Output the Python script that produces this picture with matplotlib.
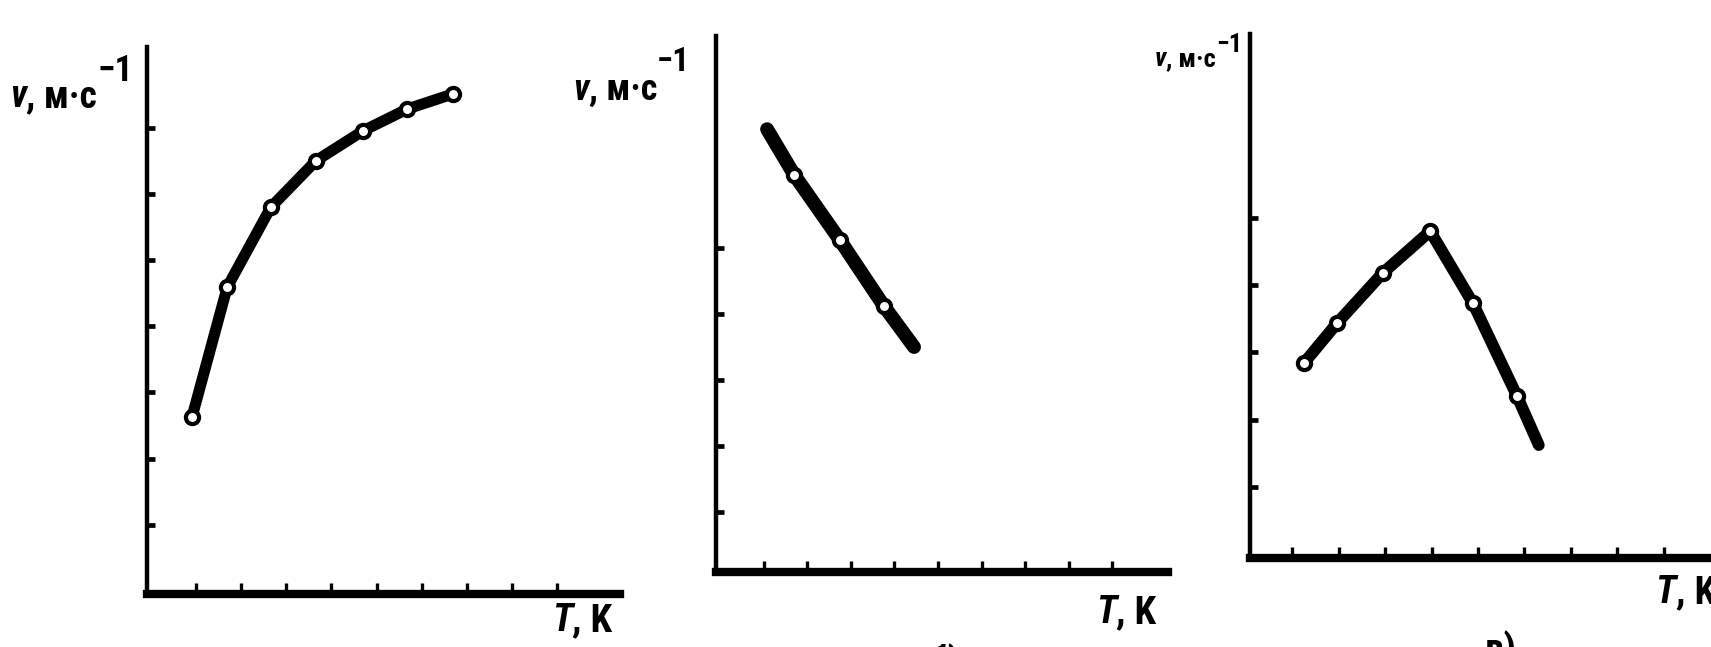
import sys
import matplotlib
matplotlib.use("Agg")
import matplotlib.pyplot as plt
from matplotlib import font_manager as fm

# ---------------- data (values in tick units of each axis) ----------------
T1 = [0.91, 1.69, 2.66, 3.66, 4.70, 5.68, 6.70]
v1 = [2.63, 4.59, 5.80, 6.50, 6.95, 7.28, 7.51]
marks1 = [0, 1, 2, 3, 4, 5, 6]

T2 = [1.08, 1.70, 2.75, 3.76, 4.45]
v2 = [6.80, 6.11, 5.12, 4.12, 3.50]
marks2 = [1, 2, 3]

T3 = [1.25, 1.96, 2.95, 3.97, 4.89, 5.84, 6.31]
v3 = [2.84, 3.43, 4.18, 4.80, 3.73, 2.35, 1.62]
marks3 = [0, 1, 2, 3, 4, 5]

x_ticks = [1, 2, 3, 4, 5, 6, 7, 8, 9]
y_ticks1 = [1, 2, 3, 4, 5, 6, 7]
y_ticks2 = [1, 2, 3, 4, 5]
y_ticks3 = [1, 2, 3, 4, 5]

y_lab_sym = "v"
y_lab_unit = ", м·с"
y_lab_pow = "−1"
x_lab_sym = "T"
x_lab_unit = ", K"
captions = ["б)", "в)"]

# ---------------- fonts ----------------
names = {f.name for f in fm.fontManager.ttflist}
for cand in ["Liberation Sans Narrow", "Roboto Condensed", "Liberation Sans", "DejaVu Sans"]:
    if cand in names:
        FONT = dict(family=[cand, "DejaVu Sans"])
        break

# ---------------- layout (pixels of a 1711x647 canvas) ----------------
W, H = 1711, 647
fig = plt.figure(figsize=(W / 100, H / 100), dpi=100)
fig.patch.set_facecolor("white")

# (left spine px, right end px, bottom spine px, top end px,
#  x zero px, px per x unit, y zero px, px per y unit)
panels = [
    dict(L=147, R=620, B=594, T=47, x0=151, sx=45.1, y0=591, sy=66.2, lw=8.0,
         T_=T1, v_=v1, marks=marks1, yt=y_ticks1),
    dict(L=716, R=1168, B=572, T=36, x0=720, sx=43.6, y0=578, sy=66.0, lw=10.0,
         T_=T2, v_=v2, marks=marks2, yt=y_ticks2),
    dict(L=1250, R=1730, B=558, T=34, x0=1246, sx=46.4, y0=554, sy=67.25, lw=8.5,
         T_=T3, v_=v3, marks=marks3, yt=y_ticks3),
]

for p in panels:
    rect = [p["L"] / W, 1 - p["B"] / H, (p["R"] - p["L"]) / W, (p["B"] - p["T"]) / H]
    ax = fig.add_axes(rect)
    ax.set_facecolor("none")
    ax.set_xlim((p["L"] - p["x0"]) / p["sx"], (p["R"] - p["x0"]) / p["sx"])
    ax.set_ylim((p["y0"] - p["B"]) / p["sy"], (p["y0"] - p["T"]) / p["sy"])
    for s in ("top", "right"):
        ax.spines[s].set_visible(False)
    ax.spines["left"].set_linewidth(3.2)
    ax.spines["bottom"].set_linewidth(6.0)
    ax.set_xticks(x_ticks)
    ax.set_yticks(p["yt"])
    ax.set_xticklabels([])
    ax.set_yticklabels([])
    ax.tick_params(axis="x", direction="in", length=8, width=2.4, color="black")
    ax.tick_params(axis="y", direction="in", length=6, width=3.4, color="black")
    ax.plot(p["T_"], p["v_"], color="black", lw=p["lw"], solid_capstyle="round",
            solid_joinstyle="round", zorder=3, clip_on=False)
    ax.plot([p["T_"][i] for i in p["marks"]], [p["v_"][i] for i in p["marks"]],
            linestyle="none", marker="o", ms=9.5, mfc="white", mec="black", mew=3.0,
            zorder=4, clip_on=False)


def px(x, y):
    return x / W, 1 - y / H


def unit_label(x, y, sym, unit, power, size, psize=None, raise_px=0):
    t1 = fig.text(*px(x, y), sym, fontsize=size, fontweight="bold", style="italic",
                  va="baseline", ha="left", **FONT)
    a2 = fig.add_artist(plt.Annotation(unit, xy=(1, 0), xycoords=t1, va="bottom",
                                       ha="left", fontsize=size, fontweight="bold", **FONT))
    if power:
        fig.add_artist(plt.Annotation(power, xy=(1, 0), xycoords=a2,
                                      xytext=(0, raise_px * 0.72), textcoords="offset points",
                                      va="bottom", ha="left", fontsize=psize,
                                      fontweight="bold", **FONT))


# y-axis labels
unit_label(10, 107, y_lab_sym, y_lab_unit, y_lab_pow, 27, 26, 26)
unit_label(573, 100, y_lab_sym, y_lab_unit, y_lab_pow, 26, 24, 30)
unit_label(1155, 66, y_lab_sym, y_lab_unit, y_lab_pow, 19, 19, 14)

# x-axis labels
unit_label(552, 631, x_lab_sym, x_lab_unit, None, 28)
unit_label(1096, 623, x_lab_sym, x_lab_unit, None, 28)
unit_label(1655, 603, x_lab_sym, x_lab_unit, None, 28)

# sub-figure captions (only their tops remain on the scan)
fig.text(*px(928, 674), captions[0], fontsize=28, fontweight="bold", va="baseline",
         ha="left", **FONT)
fig.text(*px(1485, 661), captions[1], fontsize=28, fontweight="bold", va="baseline",
         ha="left", **FONT)

fig.savefig("out.png", dpi=100, facecolor="white")
